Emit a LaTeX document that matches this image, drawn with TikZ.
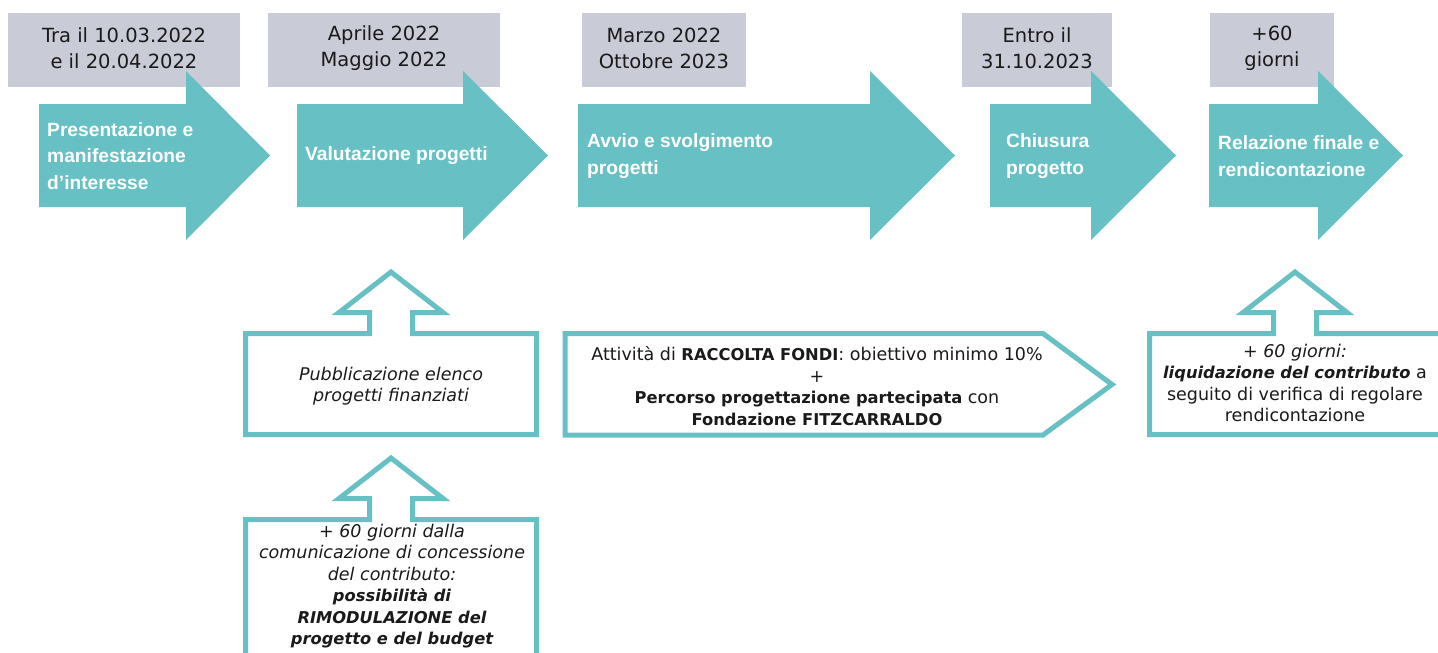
\documentclass[tikz,border=0pt]{standalone}
\usepackage{fontspec}
\setmainfont{DejaVu Sans}
\newfontfamily\titlefont{Liberation Sans}
\definecolor{teal1}{HTML}{66C0C4}
\definecolor{greybox}{HTML}{C9CBD6}
\definecolor{ink}{HTML}{1A1A1A}
\newcommand\bx[1]{{\fontsize{16.3}{21.5}\selectfont\bfseries #1}}
\newcommand\bigarrow[3]{\fill[teal1] (#1,104) -- (#2,104) -- (#2,71) -- (#3,155.5) -- (#2,240) -- (#2,207) -- (#1,207) -- cycle;}
% upward outlined callout: #1 = x shift, #2 = y shift, #3 = right x, #4 = bottom y
\newcommand\upbox[4]{\draw[outl] ({245.5+#1},{333.5+#2}) -- ({245.5+#1},{#4}) -- ({#3},{#4}) -- ({#3},{333.5+#2}) -- ({412.5+#1},{333.5+#2}) -- ({412.5+#1},{312.5+#2}) -- ({443+#1},{312.5+#2}) -- ({391+#1},{272+#2}) -- ({339+#1},{312.5+#2}) -- ({369.5+#1},{312.5+#2}) -- ({369.5+#1},{333.5+#2}) -- cycle;}
\tikzset{
  datebox/.style={inner sep=0pt, text=ink, align=center,
    font=\fontsize{19.5}{26}\selectfont},
  steptext/.style={anchor=west, inner sep=0pt, text=white, align=left,
    font=\titlefont\fontsize{19.2}{26.5}\selectfont\bfseries},
  boxtext/.style={inner sep=0pt, text=ink, align=center,
    font=\fontsize{17.5}{21.5}\selectfont},
  outl/.style={draw=teal1, line width=5pt, line join=miter, fill=white},
}
\begin{document}
\begin{tikzpicture}[x=1pt,y=-1pt]
\useasboundingbox (0,0) rectangle (1438,653);
\clip (0,0) rectangle (1438,653);
\fill[white] (0,0) rectangle (1438,653);

% date boxes
\fill[greybox] (8,13) rectangle (240,87);
\fill[greybox] (268,13) rectangle (500,87);
\fill[greybox] (582,13) rectangle (746,87);
\fill[greybox] (962,13) rectangle (1112,87);
\fill[greybox] (1210,13) rectangle (1334,87);
\node[datebox] (d1) at (124,48) {Tra il 10.03.2022\\e il 20.04.2022};
\node[datebox] (d2) at (384,48) {Aprile 2022\\Maggio 2022};
\node[datebox] (d3) at (664,48) {Marzo 2022\\Ottobre 2023};
\node[datebox] (d4) at (1037,48) {Entro il\\31.10.2023};
\node[datebox] (d5) at (1272,48) {+60\\giorni};

% big arrows
\bigarrow{39}{186}{270}
\bigarrow{297}{463}{548}
\bigarrow{578}{870}{955}
\bigarrow{990}{1091}{1176}
\bigarrow{1209}{1318}{1403}
\node[steptext] (s1) at (47,156) {Presentazione e\\manifestazione\\d’interesse};
\node[steptext] (s2) at (305,156) {Valutazione progetti};
\node[steptext] (s3) at (587,156) {Avvio e svolgimento\\progetti};
\node[steptext] (s4) at (1006,156) {Chiusura\\progetto};
\node[steptext] (s5) at (1218,156) {Relazione finale e\\rendicontazione};

% outlined callouts
\upbox{0}{0}{536.5}{434.5}
\upbox{0}{186}{536.5}{680}
\upbox{904}{0}{1445}{434.5}
\draw[outl] (565,333.5) -- (1043,333.5) -- (1112,384.5) -- (1043,435) -- (565,435) -- cycle;

\node[boxtext] (ba) at (391,386) {\itshape Pubblicazione elenco\\\itshape progetti finanziati};
\node[boxtext] (bb) at (392,586) {\itshape + 60 giorni dalla\\\itshape comunicazione di concessione\\\itshape del contributo:\\\itshape\bx{possibilità di}\\\itshape\bx{RIMODULAZIONE del}\\\itshape\bx{progetto e del budget}};
\node[boxtext] (bc) at (817,386) {Attività di \bx{RACCOLTA FONDI}: obiettivo minimo 10\%\\+\\\bx{Percorso progettazione partecipata} con\\\bx{Fondazione FITZCARRALDO}};
\node[boxtext] (bd) at (1295,383) {\itshape + 60 giorni:\\{\itshape\bx{liquidazione del contributo}} a\\seguito di verifica di regolare\\rendicontazione};
\end{tikzpicture}
\end{document}
